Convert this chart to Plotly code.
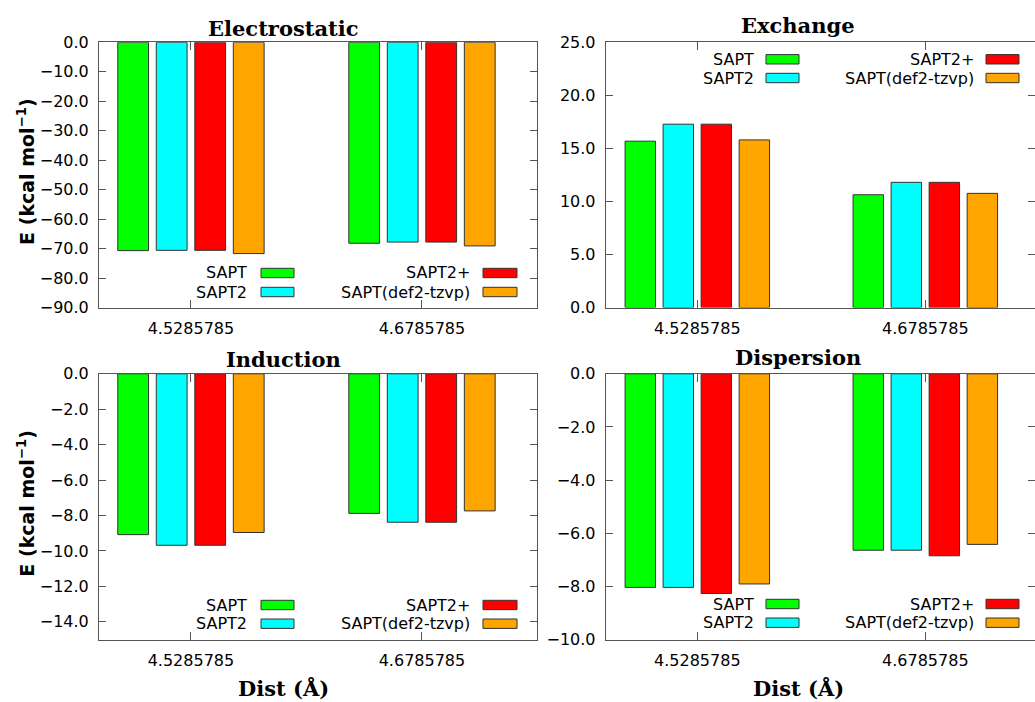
import plotly.graph_objects as go

W, H = 1035, 702

categories = ["4.5285785", "4.6785785"]
methods = ["SAPT", "SAPT2", "SAPT2+", "SAPT(def2-tzvp)"]
colors = ["#00ff00", "#00ffff", "#ff0000", "#ffa500"]

electrostatic = {
    "SAPT": [-70.7, -68.2],
    "SAPT2": [-70.6, -67.8],
    "SAPT2+": [-70.6, -67.8],
    "SAPT(def2-tzvp)": [-71.7, -69.1],
}
exchange = {
    "SAPT": [15.68, 10.63],
    "SAPT2": [17.28, 11.80],
    "SAPT2+": [17.28, 11.80],
    "SAPT(def2-tzvp)": [15.80, 10.76],
}
induction = {
    "SAPT": [-9.08, -7.88],
    "SAPT2": [-9.68, -8.38],
    "SAPT2+": [-9.68, -8.38],
    "SAPT(def2-tzvp)": [-8.96, -7.74],
}
dispersion = {
    "SAPT": [-8.04, -6.64],
    "SAPT2": [-8.04, -6.64],
    "SAPT2+": [-8.27, -6.85],
    "SAPT(def2-tzvp)": [-7.91, -6.42],
}

titles = ["Electrostatic", "Exchange", "Induction", "Dispersion"]
yranges = [[-90, 0], [0, 25], [-15, 0], [-10, 0]]
ytickvals = [
    [0, -10, -20, -30, -40, -50, -60, -70, -80, -90],
    [0, 5, 10, 15, 20, 25],
    [0, -2, -4, -6, -8, -10, -12, -14],
    [0, -2, -4, -6, -8, -10],
]
datasets = [electrostatic, exchange, induction, dispersion]


def px(x):
    return x / W


def py(y):
    return 1 - y / H


# panel pixel boxes: (left, right, top, bottom)
boxes = [
    (99, 537, 42.3, 307.5),
    (605.7, 1035, 42.3, 307.5),
    (99, 537, 373.8, 639.5),
    (605.7, 1035, 373.8, 639.5),
]
xranges = [[-0.398, 1.498], [-0.4018, 1.481], [-0.398, 1.498], [-0.4018, 1.481]]

fig = go.Figure()
axis_col = "#555555"
font_fam = "DejaVu Sans"

for i, (data, box) in enumerate(zip(datasets, boxes)):
    xa = "x" if i == 0 else f"x{i+1}"
    ya = "y" if i == 0 else f"y{i+1}"
    for m, c in zip(methods, colors):
        fig.add_trace(go.Bar(
            x=categories, y=data[m], name=m, marker_color=c,
            marker_line_color="#333333", marker_line_width=1,
            xaxis=xa, yaxis=ya, showlegend=False,
        ))
    l, r, t, b = box
    common = dict(showline=True, linecolor=axis_col, linewidth=1, mirror="ticks",
                  ticks="inside", tickcolor=axis_col, showgrid=False, zeroline=False,
                  automargin=False,
                  tickfont=dict(family=font_fam, size=16, color="#000000"))
    xkey = "xaxis" if i == 0 else f"xaxis{i+1}"
    ykey = "yaxis" if i == 0 else f"yaxis{i+1}"
    fig.update_layout(**{
        xkey: dict(domain=[px(l), px(r)], anchor=ya, type="category",
                   range=xranges[i], ticklen=8, ticklabelstandoff=6, **common),
        ykey: dict(domain=[py(b), py(t)], anchor=xa, range=yranges[i],
                   tickvals=ytickvals[i], tickformat=".1f", ticklen=7,
                   ticklabelstandoff=6, **common),
    })

annotations = []
shapes = []

# panel titles
title_pos = [(283, 28), (798, 26), (283, 360), (798, 357)]
for t, (x, y) in zip(titles, title_pos):
    annotations.append(dict(text=f"<b>{t}</b>", x=px(x), y=py(y), xref="paper", yref="paper",
                            showarrow=False, xanchor="center", yanchor="middle",
                            font=dict(family="DejaVu Serif", size=21, color="#000000")))

# y-axis titles
for yc in [(42.3 + 307.5) / 2, (373.8 + 639.5) / 2]:
    annotations.append(dict(text="<b>E (kcal mol<sup>\u22121</sup>)</b>", x=px(26), y=py(yc - 3),
                            xref="paper", yref="paper", showarrow=False, textangle=-90,
                            xanchor="center", yanchor="middle",
                            font=dict(family=font_fam, size=19, color="#000000")))

# x-axis titles
for xc in [283, 798]:
    annotations.append(dict(text="<b>Dist (Å)</b>", x=px(xc), y=py(688), xref="paper", yref="paper",
                            showarrow=False, xanchor="center", yanchor="middle",
                            font=dict(family="DejaVu Serif", size=21, color="#000000")))

# legends (text to the left of key boxes, as in the original)
legend_rows = [
    (273, 292),      # electrostatic (bottom)
    (59.3, 78),      # exchange (top)
    (605, 623.7),    # induction
    (604, 622.7),    # dispersion
]
legend_cols_left = [(249, 261, 294), (472, 483, 517)]
legend_cols_right = [(755.7, 766, 799), (976, 986, 1019)]
for i in range(4):
    cols = legend_cols_left if i % 2 == 0 else legend_cols_right
    rows = legend_rows[i]
    for k, (m, c) in enumerate(zip(methods, colors)):
        col = cols[k // 2]
        row = rows[k % 2]
        annotations.append(dict(text=m, x=px(col[0]), y=py(row), xref="paper", yref="paper",
                                showarrow=False, xanchor="right", yanchor="middle",
                                font=dict(family=font_fam, size=16, color="#000000")))
        shapes.append(dict(type="rect", xref="paper", yref="paper",
                           x0=px(col[1]), x1=px(col[2]), y0=py(row - 4.7), y1=py(row + 4.7),
                           fillcolor=c, line=dict(color="#333333", width=1)))

fig.update_layout(
    width=W, height=H,
    margin=dict(l=0, r=0, t=0, b=0, autoexpand=False),
    paper_bgcolor="white", plot_bgcolor="white",
    barmode="group", bargap=0.333, bargroupgap=0.2,
    annotations=annotations, shapes=shapes,
    font=dict(family=font_fam, size=16, color="#000000"),
)

fig.write_html("out.html")
